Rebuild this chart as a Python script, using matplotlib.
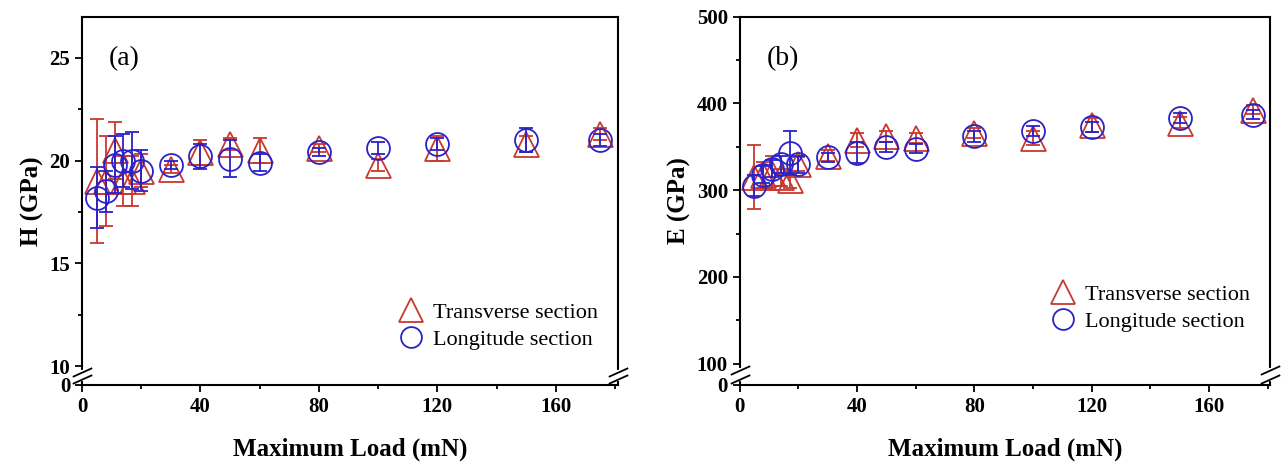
import numpy as np
import matplotlib
matplotlib.use("Agg")
import matplotlib.pyplot as plt
from matplotlib.ticker import FixedLocator
from matplotlib.lines import Line2D

plt.rcParams['font.family'] = ['Liberation Serif', 'DejaVu Serif']

load = [5, 8, 11, 14, 17, 20, 30, 40, 50, 60, 80, 100, 120, 150, 175]

# hardness (GPa)
h_trans = [19.0, 19.0, 20.5, 19.0, 19.0, 19.5, 19.6, 20.4, 20.8, 20.5, 20.6, 19.8, 20.6, 20.8, 21.3]
h_trans_err = [3.0, 2.2, 1.4, 1.2, 1.2, 0.8, 0.2, 0.6, 0.3, 0.6, 0.2, 0.3, 0.6, 0.4, 0.3]
h_long = [18.2, 18.5, 19.8, 20.0, 20.0, 19.5, 19.8, 20.2, 20.1, 19.9, 20.4, 20.6, 20.8, 21.0, 21.0]
h_long_err = [1.5, 1.0, 1.4, 1.3, 1.4, 1.0, 0.2, 0.6, 0.9, 0.4, 0.2, 0.3, 0.3, 0.6, 0.3]

# modulus (GPa)
e_trans = [315, 318, 320, 315, 312, 330, 340, 358, 362, 360, 366, 360, 375, 378, 393]
e_trans_err = [37, 15, 20, 10, 10, 8, 6, 8, 6, 6, 6, 8, 8, 6, 5]
e_long = [305, 318, 325, 330, 343, 330, 338, 343, 350, 348, 362, 368, 373, 383, 387]
e_long_err = [12, 10, 10, 10, 25, 10, 5, 12, 6, 5, 6, 6, 6, 6, 5]

red = '#c8382e'
blue = '#2a22c8'


def broken_scale(lo, k):
    def fwd(y):
        y = np.asarray(y, dtype=float)
        return np.where(y >= lo, y, lo - (lo - y) * k)

    def inv(z):
        z = np.asarray(z, dtype=float)
        return np.where(z >= lo, z, lo - (lo - z) / k)
    return fwd, inv


def panel(ax, yt, yte, yl, yle, lo, hi, k, majors, minors, ylabel, tag, leg_y):
    ax.set_yscale('function', functions=broken_scale(lo, k))
    ax.errorbar(load, yt, yerr=yte, fmt='^', mfc='none', mec=red, ecolor=red,
                ms=18, mew=1.3, elinewidth=1.3, capsize=5, capthick=1.3, zorder=3)
    ax.errorbar(load, yl, yerr=yle, fmt='o', mfc='none', mec=blue, ecolor=blue,
                ms=16.5, mew=1.3, elinewidth=1.3, capsize=5, capthick=1.3, zorder=4)
    ax.set_xlim(0, 181)
    ax.set_ylim(0, hi)
    ax.set_xticks([0, 40, 80, 120, 160])
    ax.set_xticks([20, 60, 100, 140, 180], minor=True)
    ax.yaxis.set_major_locator(FixedLocator(majors))
    ax.yaxis.set_minor_locator(FixedLocator(minors))
    ax.tick_params(which='both', direction='out', width=1.3, top=False, right=False)
    ax.tick_params(which='major', length=5, labelsize=15)
    ax.tick_params(which='minor', length=3)
    for lab in ax.get_xticklabels() + ax.get_yticklabels():
        lab.set_fontweight('bold')
    for s in ax.spines.values():
        s.set_linewidth(1.5)
    ax.set_xlabel('Maximum Load (mN)', fontsize=18, fontweight='bold', labelpad=15)
    ax.set_ylabel(ylabel, fontsize=18, fontweight='bold', labelpad=4)
    ax.text(0.05, 0.87, tag, transform=ax.transAxes, fontsize=20)
    handles = [Line2D([], [], ls='none', marker='^', mfc='none', mec=red, ms=17, mew=1.3),
               Line2D([], [], ls='none', marker='o', mfc='none', mec=blue, ms=15, mew=1.3)]
    ax.legend(handles, ['Transverse section', 'Longitude section'],
              loc='lower right', bbox_to_anchor=(1.0, leg_y), frameon=False,
              fontsize=16, handletextpad=0.4, labelspacing=0.3, handlelength=1.2)

    # axis break marks on both spines
    ymid = lo * 0.5
    gap = lo * 0.2
    tr = ax.get_yaxis_transform()
    for xa in (0, 1):
        ax.plot([xa, xa], [ymid - gap, ymid + gap], color='white', lw=3,
                transform=tr, clip_on=False, zorder=5)
        ax.plot([xa, xa], [ymid - gap, ymid + gap], linestyle='none',
                marker=[(-1, -0.45), (1, 0.45)], ms=14, mew=1.3, color='black',
                transform=tr, clip_on=False, zorder=6)


fig = plt.figure(figsize=(12.82, 4.66), dpi=100)
ax1 = fig.add_axes([0.064, 0.174, 0.418, 0.79])
ax2 = fig.add_axes([0.577, 0.174, 0.414, 0.79])

panel(ax1, h_trans, h_trans_err, h_long, h_long_err, 10, 27, 0.092,
      [0, 10, 15, 20, 25], [12.5, 17.5, 22.5], 'H (GPa)', '(a)', 0.04)
panel(ax2, e_trans, e_trans_err, e_long, e_long_err, 100, 500, 0.246,
      [0, 100, 200, 300, 400, 500], [150, 250, 350, 450], 'E (GPa)', '(b)', 0.09)

fig.savefig('out.png', dpi=100)
